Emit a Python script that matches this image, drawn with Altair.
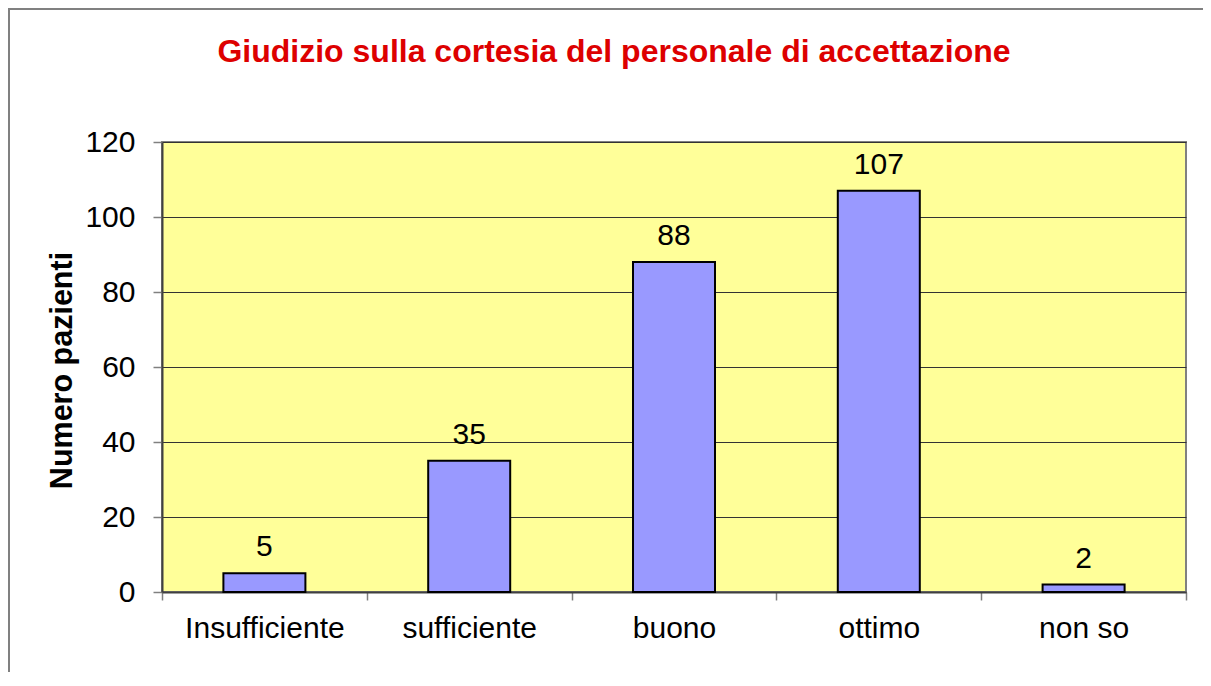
import altair as alt
import pandas as pd

categories = ["Insufficiente", "sufficiente", "buono", "ottimo", "non so"]
values = [5, 35, 88, 107, 2]
y_ticks = [0, 20, 40, 60, 80, 100, 120]
title_text = "Giudizio sulla cortesia del personale di accettazione"
y_title = "Numero pazienti"

df = pd.DataFrame({"cat": categories, "val": values})

FONT = "Liberation Sans"
W, H = 1024, 450

x_enc = alt.X(
    "cat:N",
    sort=categories,
    scale=alt.Scale(paddingInner=0, paddingOuter=0),
    axis=alt.Axis(
        title=None,
        labelAngle=0,
        tickBand="extent",
        tickSize=8,
        tickColor="#808080",
        tickWidth=1.5,
        labelFontSize=30,
        labelFont=FONT,
        labelColor="black",
        labelPadding=13,
        domainColor="#404040",
        domainWidth=2,
        grid=False,
    ),
)
y_enc = alt.Y(
    "val:Q",
    scale=alt.Scale(domain=[0, 120], nice=False),
    axis=alt.Axis(
        values=y_ticks,
        title=y_title,
        titleFont=FONT,
        titleFontSize=30.5,
        titleFontWeight="bold",
        titleColor="black",
        titleX=-100,
        titleY=H / 2 + 3,
        titleAngle=270,
        titleAlign="center",
        titleBaseline="middle",
        tickSize=9,
        tickColor="#808080",
        tickWidth=1.5,
        labelFontSize=30,
        labelFont=FONT,
        labelColor="black",
        labelPadding=18,
        domainColor="#404040",
        domainWidth=2,
        grid=True,
        gridColor="#333333",
        gridWidth=1,
    ),
)

bars = alt.Chart(df).mark_bar(
    size=82, fill="#9999FF", stroke="black", strokeWidth=2
).encode(x=x_enc, y=y_enc)

labels = alt.Chart(df).mark_text(
    dy=-17, baseline="alphabetic", align="center", fontSize=30, font=FONT, color="black"
).encode(x=alt.X("cat:N", sort=categories), y="val:Q", text="val:Q")

border = alt.Chart(pd.DataFrame({"a": [0]})).mark_rect(
    fill=None, stroke="#808080", strokeWidth=2
).encode(
    x=alt.value(-153),
    x2=alt.value(W + 60),
    y=alt.value(-133),
    y2=alt.value(H + 120),
)

chart = alt.layer(bars, labels, border).properties(
    width=W,
    height=H,
    title=alt.TitleParams(
        text=title_text,
        font=FONT,
        fontSize=32,
        fontWeight="bold",
        color="#DD0000",
        anchor="middle",
        baseline="alphabetic",
        dx=-60,
        dy=90,
    ),
    autosize=alt.AutoSizeParams(type="none"),
    padding={"left": 154, "top": 134, "right": 17, "bottom": 80},
).configure_view(
    fill="#FFFF99", stroke="#808080", strokeWidth=2
)

chart.save("out.html", embed_options={"renderer": "svg", "actions": False})
